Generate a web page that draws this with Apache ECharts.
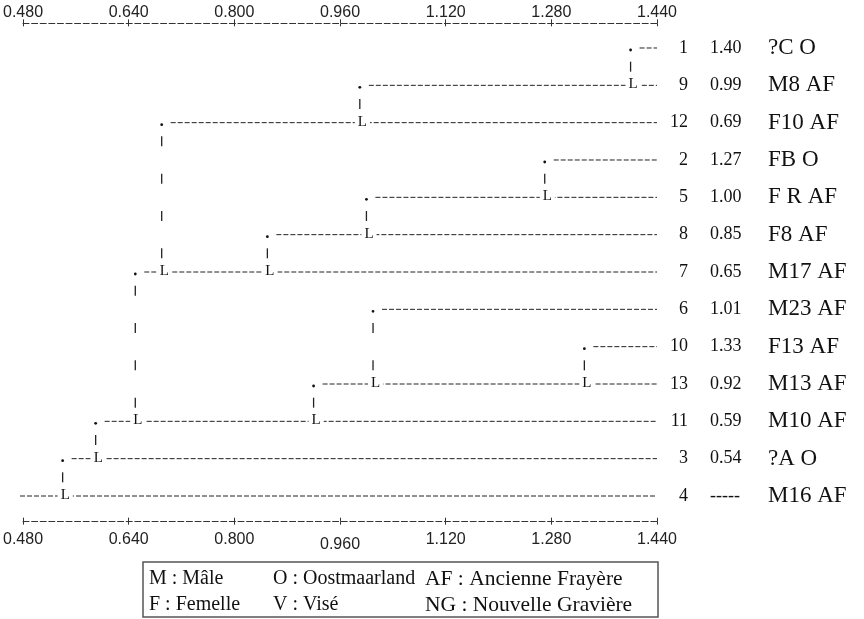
<!DOCTYPE html>
<html><head><meta charset="utf-8">
<script src="https://cdn.jsdelivr.net/npm/echarts@6/dist/echarts.min.js"></script>
<style>html,body{margin:0;padding:0;background:#fff}#c{width:864px;height:619px}</style>
</head><body><div id="c"></div>
<script>
// ---- data ----
const rowIds = ['1','9','12','2','5','8','7','6','10','13','11','3','4'];
const rowValues = [1.40,0.99,0.69,1.27,1.00,0.85,0.65,1.01,1.33,0.92,0.59,0.54,null];
const rowNames = ['?C O','M8 AF','F10 AF','FB O','F R AF','F8 AF','M17 AF','M23 AF','F13 AF','M13 AF','M10 AF','?A O','M16 AF'];
const xTicks = [0.48,0.64,0.80,0.96,1.12,1.28,1.44];
const legendCol1 = ['M : Mâle','F : Femelle'];
const legendCol2 = ['O : Oostmaarland','V : Visé'];
const legendCol3 = ['AF : Ancienne Frayère','NG : Nouvelle Gravière'];

const n = rowIds.length;
const xMin = xTicks[0], xMax = xTicks[xTicks.length-1], xStep = xTicks[1]-xTicks[0];
// each row joins the first row below it that has a lower level
const data = rowValues.map((v,i)=>{
  let s = -1;
  if (v != null) {
    for (let j=i+1;j<n;j++){ const w=rowValues[j]; if (w==null || w < v){ s=j; break; } }
  }
  return [v==null ? xMin : v, i, s];
});
const valueLabels = rowValues.map(v => v==null ? '-----' : v.toFixed(2));

function renderItem(params, api){
  const v = api.value(0), i = api.value(1), s = api.value(2);
  const p = api.coord([v,i]);
  const pEnd = api.coord([xMax, i]);
  const isRoot = s < 0;
  const children = [];
  const x0 = isRoot ? p[0]-3 : p[0]+9;
  children.push({type:'line', z2:1, shape:{x1:x0,y1:p[1],x2:pEnd[0],y2:p[1]},
    style:{stroke:'#222',lineWidth:1,lineDash:[5,2]}});
  if (!isRoot){
    children.push({type:'circle', z2:5, shape:{cx:p[0],cy:p[1]+2,r:1.4}, style:{fill:'#111'}});
    const q = api.coord([v,s]);
    const half = (q[1]-p[1])/(s-i)/2;
    children.push({type:'line', z2:2, shape:{x1:p[0],y1:p[1]+half-5,x2:p[0],y2:q[1]-half+5},
      style:{stroke:'#222',lineWidth:1.3,lineDash:[10,half*2-10]}});
    children.push({type:'text', z2:10, style:{text:'L', x:q[0]-5, y:q[1]-1,
      font:'15px "Liberation Serif"', fill:'#111', textAlign:'left', textVerticalAlign:'middle',
      backgroundColor:'#fff', padding:[0,3,0,3]}});
  }
  return {type:'group', children};
}

const axisCommon = {type:'value', min:xMin, max:xMax, interval:xStep, splitLine:{show:false}};
const fmt = v => v.toFixed(3);
const labelStyle = {fontFamily:'Liberation Sans', fontSize:16, color:'#222'};
const lineStyleAxis = {color:'#333', type:[6,2.6], width:1};

const chart = echarts.init(document.getElementById('c'));
chart.setOption({
  animation:false,
  backgroundColor:'#fff',
  grid:{left:18, right:207, top:29.33, bottom:104.33, containLabel:false},
  xAxis:[
    Object.assign({}, axisCommon, {position:'top', offset:6,
      axisLine:{show:true,onZero:false,lineStyle:lineStyleAxis},
      axisTick:{show:true,length:4,lineStyle:{color:'#333'}},
      axisLabel:Object.assign({margin:3, formatter:fmt}, labelStyle)}),
    Object.assign({}, axisCommon, {position:'top', offset:6,
      axisLine:{show:false,onZero:false}, axisTick:{show:true,inside:true,length:3,lineStyle:{color:'#333'}},
      axisLabel:{show:false}}),
    Object.assign({}, axisCommon, {position:'bottom', offset:7,
      axisLine:{show:true,onZero:false,lineStyle:lineStyleAxis},
      axisTick:{show:true,length:3,lineStyle:{color:'#333'}},
      axisLabel:Object.assign({margin:10,
        formatter:v => Math.abs(v-xTicks[3])<1e-9 ? '{low|'+fmt(v)+'}' : fmt(v),
        rich:{low:{padding:[5,0,0,0], fontFamily:'Liberation Sans', fontSize:16, color:'#222'}}}, labelStyle)}),
    Object.assign({}, axisCommon, {position:'bottom', offset:7,
      axisLine:{show:false,onZero:false}, axisTick:{show:true,inside:true,length:4,lineStyle:{color:'#333'}},
      axisLabel:{show:false}})
  ],
  yAxis:[
    {type:'value', min:-0.5, max:n-0.5, inverse:true, show:false},
    {type:'category', data:rowIds, inverse:true, position:'right', axisLine:{show:false}, axisTick:{show:false},
      axisLabel:{interval:0, align:'right', margin:31, fontFamily:'Liberation Serif', fontSize:18, color:'#111'}},
    {type:'category', data:valueLabels, inverse:true, position:'right', axisLine:{show:false}, axisTick:{show:false},
      axisLabel:{interval:0, align:'left', margin:53, fontFamily:'Liberation Serif', fontSize:18, color:'#111'}},
    {type:'category', data:rowNames, inverse:true, position:'right', axisLine:{show:false}, axisTick:{show:false},
      axisLabel:{interval:0, align:'left', margin:111, fontFamily:'Liberation Serif', fontSize:23, color:'#111'}}
  ],
  series:[{type:'custom', xAxisIndex:0, yAxisIndex:0, renderItem, encode:{x:0,y:1}, data, clip:false}],
  graphic:[
    {type:'rect', shape:{x:143,y:562,width:515,height:55}, style:{fill:'none',stroke:'#555',lineWidth:1.5}},
    ...legendCol1.map((t,k)=>({type:'text', x:149, y:579+26*k, style:{text:t, font:'20px "Liberation Serif"', fill:'#111', textVerticalAlign:'middle'}})),
    ...legendCol2.map((t,k)=>({type:'text', x:273, y:579+26*k, style:{text:t, font:'20px "Liberation Serif"', fill:'#111', textVerticalAlign:'middle'}})),
    ...legendCol3.map((t,k)=>({type:'text', x:425, y:579+26*k, style:{text:t, font:'21.5px "Liberation Serif"', fill:'#111', textVerticalAlign:'middle'}}))
  ]
});
</script></body></html>
